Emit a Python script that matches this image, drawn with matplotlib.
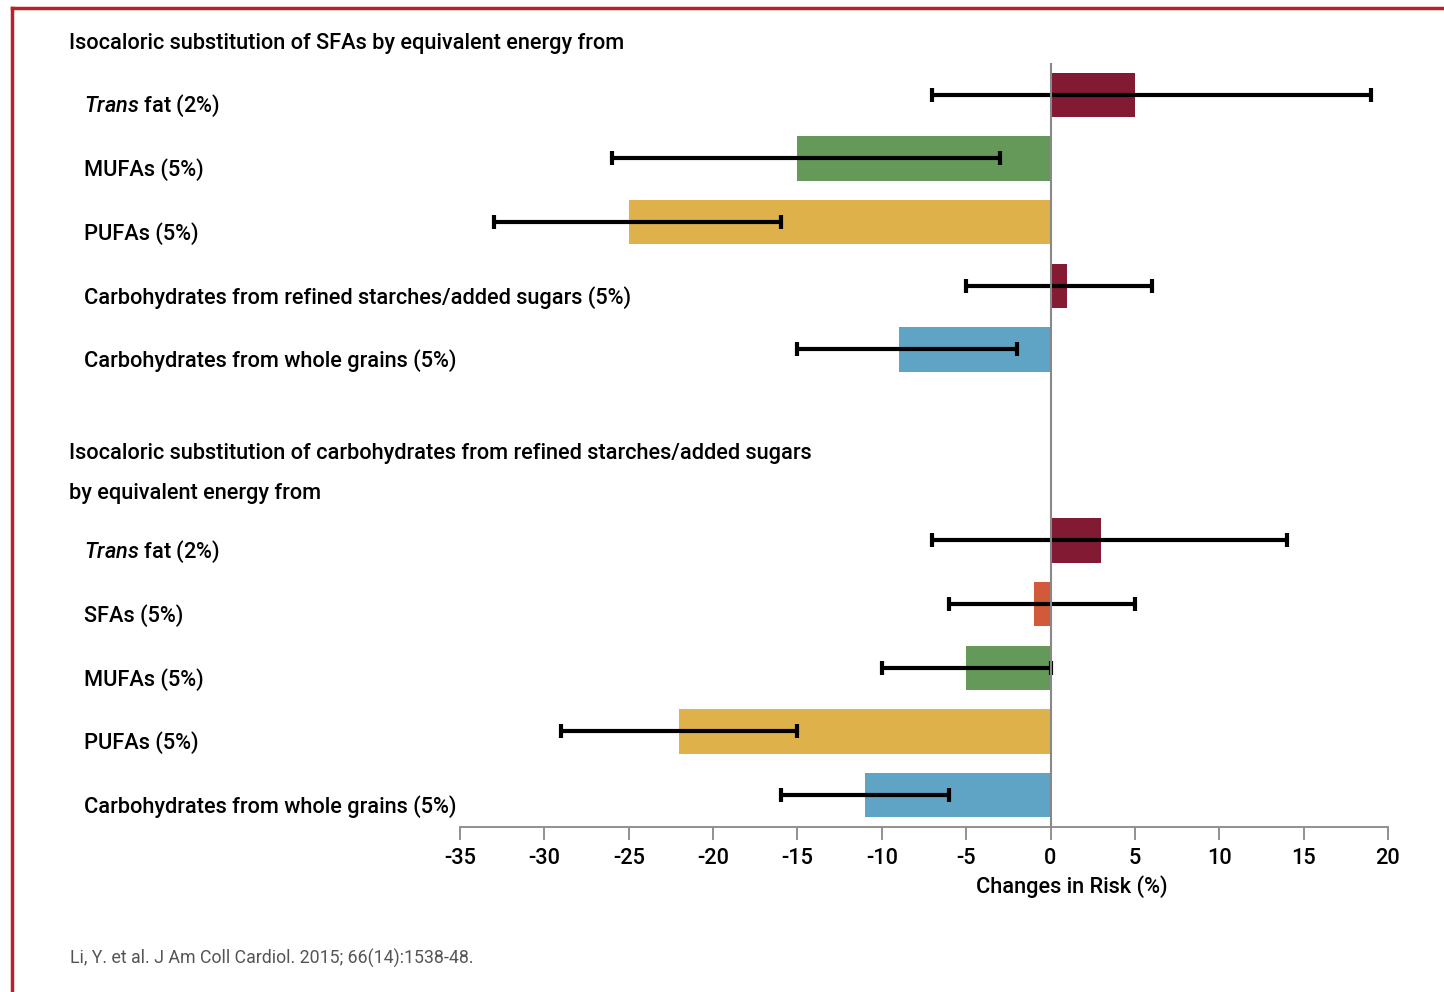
import matplotlib
matplotlib.use("Agg")
import matplotlib.pyplot as plt
from matplotlib.lines import Line2D
import numpy as np

plt.rcParams['font.family'] = ['Roboto', 'DejaVu Sans']
plt.rcParams['font.weight'] = 'medium'
plt.rcParams['mathtext.fontset'] = 'custom'
plt.rcParams['mathtext.it'] = 'Roboto:italic:medium'
plt.rcParams['mathtext.rm'] = 'Roboto:medium'
plt.rcParams['axes.unicode_minus'] = False

# substitution for SFAs
labels_sfa = [r"$\it{Trans}$ fat (2%)", "MUFAs (5%)", "PUFAs (5%)",
              "Carbohydrates from refined starches/added sugars (5%)",
              "Carbohydrates from whole grains (5%)"]
change_sfa = [5, -15, -25, 1, -9]
low_sfa = [-7, -26, -33, -5, -15]
high_sfa = [19, -3, -16, 6, -2]
colors_sfa = ['#831a33', '#65995a', '#dfb14b', '#851a33', '#5fa3c5']

# substitution for refined carbohydrates
labels_carb = [r"$\it{Trans}$ fat (2%)", "SFAs (5%)", "MUFAs (5%)", "PUFAs (5%)",
               "Carbohydrates from whole grains (5%)"]
change_carb = [3, -1, -5, -22, -11]
low_carb = [-7, -6, -10, -29, -16]
high_carb = [14, 5, 0, -15, -6]
colors_carb = ['#831a33', '#d3593b', '#65995a', '#dfb14b', '#5fa3c5']

heading_sfa = "Isocaloric substitution of SFAs by equivalent energy from"
heading_carb = ["Isocaloric substitution of carbohydrates from refined starches/added sugars",
                "by equivalent energy from"]
xticks = [-35, -30, -25, -20, -15, -10, -5, 0, 5, 10, 15, 20]
source = "Li, Y. et al. J Am Coll Cardiol. 2015; 66(14):1538-48."

FS = 15.7
FW = 'medium'

fig = plt.figure(figsize=(14.44, 9.92), dpi=100)
ax = fig.add_axes([460 / 1444, 1 - 827 / 992, 928 / 1444, 764 / 992])

y_sfa = np.arange(len(change_sfa))
y_carb = np.arange(len(change_carb)) + 7
ys = np.concatenate([y_sfa, y_carb])
vals = np.array(change_sfa + change_carb)
lows = np.array(low_sfa + low_carb)
highs = np.array(high_sfa + high_carb)
cols = colors_sfa + colors_carb
labs = labels_sfa + labels_carb

ax.barh(ys, vals, height=0.7, color=cols, zorder=2)
mid = (lows + highs) / 2
ax.errorbar(mid, ys, xerr=(highs - lows) / 2, fmt='none', ecolor='black',
            elinewidth=3, capsize=5, capthick=3, zorder=3)
ax.axvline(0, color='#888888', lw=1.5, zorder=4)

ax.set_xlim(-35, 20)
ax.set_ylim(11.5, -0.5)
ax.set_xticks(xticks)
ax.set_xticklabels([str(t) for t in xticks], fontsize=FS, fontweight=FW)
ax.tick_params(axis='x', length=9, width=1.3, color='#888888', pad=6)
ax.set_yticks([])
for s in ['top', 'right', 'left']:
    ax.spines[s].set_visible(False)
ax.spines['bottom'].set_color('#888888')
ax.spines['bottom'].set_linewidth(1.3)
ax.set_xlabel("Changes in Risk (%)", fontsize=FS, fontweight=FW)
ax.xaxis.set_label_coords((1072 - 460) / 928, -0.063)

# category labels sit a little below the bar centres
tr = ax.get_yaxis_transform()
for y, lab in zip(ys, labs):
    ax.text((84 - 460) / 928, y + 0.18, lab, transform=tr, fontsize=FS, fontweight=FW,
            ha='left', va='center', clip_on=False)
hx = (69 - 460) / 928
for y, txt in [(-0.8, heading_sfa), (5.63, heading_carb[0]), (6.26, heading_carb[1])]:
    ax.text(hx, y, txt, transform=tr, fontsize=FS, fontweight=FW,
            ha='left', va='center', clip_on=False)

fig.text(70 / 1444, 1 - 958 / 992, source, fontsize=12.8, color='#555555',
         fontweight='normal', ha='left', va='center')

# red frame on the top and left edges
fig.add_artist(Line2D([12 / 1444, 12 / 1444], [0, 1 - 8 / 992], color='#b5222a', lw=2.5))
fig.add_artist(Line2D([12 / 1444, 1], [1 - 8 / 992, 1 - 8 / 992], color='#b5222a', lw=2.5))

fig.savefig("out.png", dpi=100)
